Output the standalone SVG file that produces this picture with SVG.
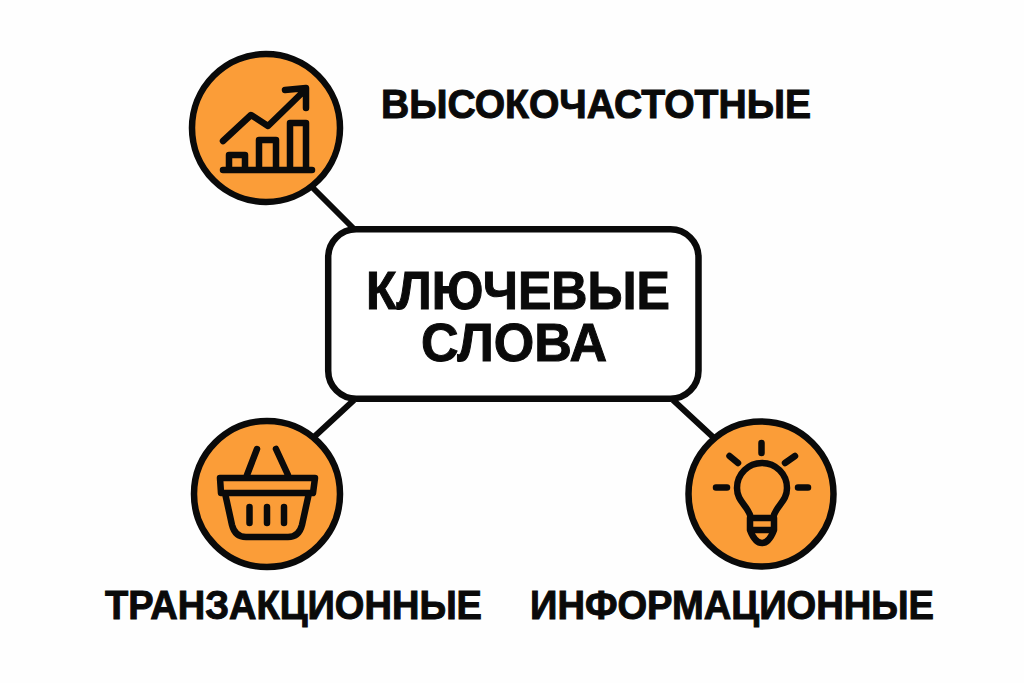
<svg xmlns="http://www.w3.org/2000/svg" width="1024" height="683" viewBox="0 0 1024 683">
<style>
.c{fill:#fb9d38;stroke:#0a0a0a;stroke-width:6.500}
.i{fill:none;stroke:#0a0a0a;stroke-width:6.500;stroke-linecap:round;stroke-linejoin:round}
.l{fill:none;stroke:#0a0a0a;stroke-width:6}
text{font-family:"Liberation Sans",Arial,sans-serif;font-weight:700;fill:#0a0a0a;stroke:#0a0a0a;stroke-width:1}
.s{font-size:40px}
.b{font-size:53px}
</style>
<rect width="1024" height="683" fill="#fefefe"/>
<g id="connectors">
<path class="l" d="M312 187L354 229M354 400L314 437M673 400L714 438"/>
</g>
<g id="center">
<rect x="328.200" y="229.300" width="370.300" height="169.400" rx="28" fill="#fff" stroke="#0a0a0a" stroke-width="6.500"/>
<text class="b"><tspan x="366" y="308.500" textLength="304" lengthAdjust="spacingAndGlyphs">КЛЮЧЕВЫЕ</tspan><tspan x="421" y="360.500" textLength="186" lengthAdjust="spacingAndGlyphs">СЛОВА</tspan></text>
</g>
<g id="high">
<circle class="c" cx="266" cy="128" r="74"/>
<path class="i" d="M223 170H312M229 168V155H245V168M259 168V140H276V168M290 168V123H306V168M223 141L251 115L268 126L305 90M285 90L306 88V108"/>
<text class="s" x="381" y="117.500" textLength="430" lengthAdjust="spacingAndGlyphs">ВЫСОКОЧАСТОТНЫЕ</text>
</g>
<g id="trans">
<circle class="c" cx="267" cy="494" r="73"/>
<path class="i" d="M257 449L247 475M276 449L288 475M220 478H315L313 493H221ZM225 493L232 525Q235 537 246 537H288Q299 537 302 525L309 493M249.500 507V523M267 507V523M284 507V523"/>
<text class="s" x="105" y="618.500" textLength="377" lengthAdjust="spacingAndGlyphs">ТРАНЗАКЦИОННЫЕ</text>
</g>
<g id="info">
<circle class="c" cx="761" cy="494" r="72.500"/>
<path class="i" d="M761.500 443V453M729.500 456L738 463M795 456L785 463M716 487.500H727M798 487.500H808M751 518C748 505 737 502 737 488A25 25 0 0 1 787 488C787 502 776 505 773 518ZM750 518V530Q755 543 762 543Q769 543 774 530V518M751 530H773"/>
<text class="s" x="530" y="618.500" textLength="404" lengthAdjust="spacingAndGlyphs">ИНФОРМАЦИОННЫЕ</text>
</g>
</svg>
